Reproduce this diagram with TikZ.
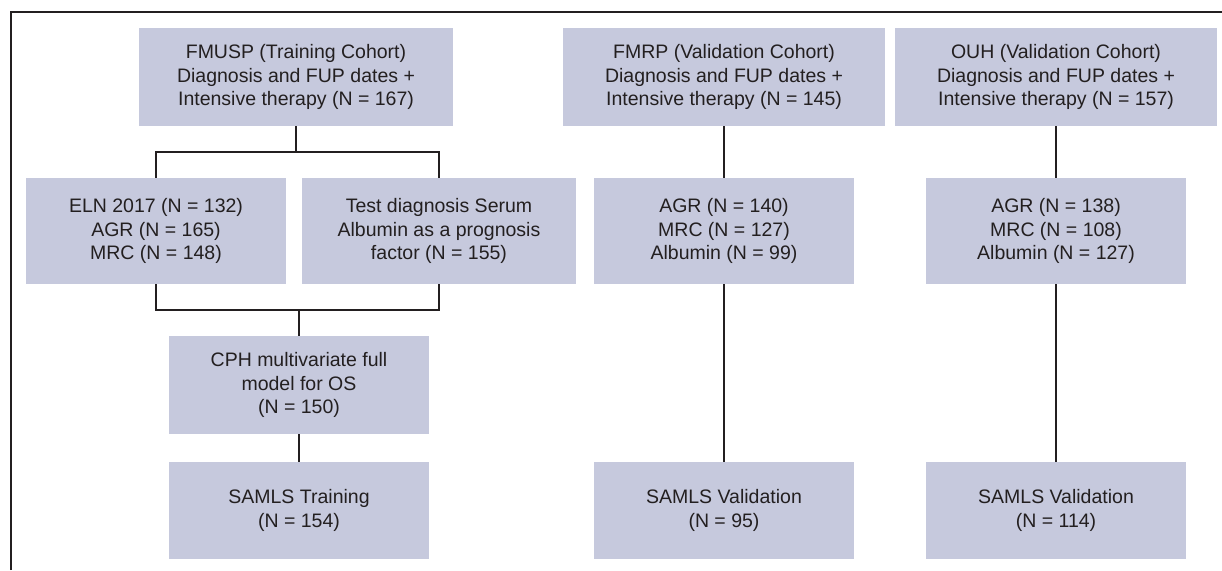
\documentclass[tikz,border=0pt]{standalone}
\usepackage{fontspec}
\setmainfont{Liberation Sans}
\definecolor{boxfill}{RGB}{198,201,221}
\definecolor{ink}{RGB}{35,31,32}
\begin{document}
\begin{tikzpicture}[x=1pt,y=-1pt,
  box/.style={fill=boxfill,draw=none,inner sep=0pt,align=center,text=ink,
    font=\fontsize{19.5}{23.5}\selectfont},
  conn/.style={draw=ink,line width=1.8pt},
  frame/.style={draw=ink,line width=2pt}]
\useasboundingbox (0,0) rectangle (1222,570);
\draw[frame] (11,570) -- (11,11.5) -- (1222,11.5);
% top row
\node[box,minimum width=314pt,minimum height=98pt] (fmusp) at (296,77) {FMUSP (Training Cohort)\\Diagnosis and FUP dates +\\Intensive therapy (N = 167)};
\node[box,minimum width=322pt,minimum height=98pt] (fmrp) at (724,77) {FMRP (Validation Cohort)\\Diagnosis and FUP dates +\\Intensive therapy (N = 145)};
\node[box,minimum width=322pt,minimum height=98pt] (ouh) at (1056,77) {OUH (Validation Cohort)\\Diagnosis and FUP dates +\\Intensive therapy (N = 157)};
% second row
\node[box,minimum width=260pt,minimum height=106pt] (eln) at (156,231) {ELN 2017 (N = 132)\\AGR (N = 165)\\MRC (N = 148)};
\node[box,minimum width=274pt,minimum height=106pt] (test) at (439,231) {Test diagnosis Serum\\Albumin as a prognosis\\factor (N = 155)};
\node[box,minimum width=260pt,minimum height=106pt] (agrA) at (724,231) {AGR (N = 140)\\MRC (N = 127)\\Albumin (N = 99)};
\node[box,minimum width=260pt,minimum height=106pt] (agrB) at (1056,231) {AGR (N = 138)\\MRC (N = 108)\\Albumin (N = 127)};
% third row
\node[box,minimum width=260pt,minimum height=98pt] (cph) at (299,385) {CPH multivariate full\\model for OS\\(N = 150)};
% bottom row
\node[box,minimum width=260pt,minimum height=97pt] (samT) at (299,510.5) {SAMLS Training\\(N = 154)};
\node[box,minimum width=260pt,minimum height=97pt] (samA) at (724,510.5) {SAMLS Validation\\(N = 95)};
\node[box,minimum width=260pt,minimum height=97pt] (samB) at (1056,510.5) {SAMLS Validation\\(N = 114)};
% connectors
\coordinate (j1) at (296,152);
\coordinate (j2) at (299,310);
\draw[conn] (fmusp.south) -- (j1);
\draw[conn] (eln.north) |- (j1) -| (test.north);
\draw[conn] (eln.south) |- (j2) -| (test.south);
\draw[conn] (j2) -- (cph.north);
\draw[conn] (cph.south) -- (samT.north);
\draw[conn] (fmrp.south) -- (agrA.north);
\draw[conn] (agrA.south) -- (samA.north);
\draw[conn] (ouh.south) -- (agrB.north);
\draw[conn] (agrB.south) -- (samB.north);
\end{tikzpicture}
\end{document}
